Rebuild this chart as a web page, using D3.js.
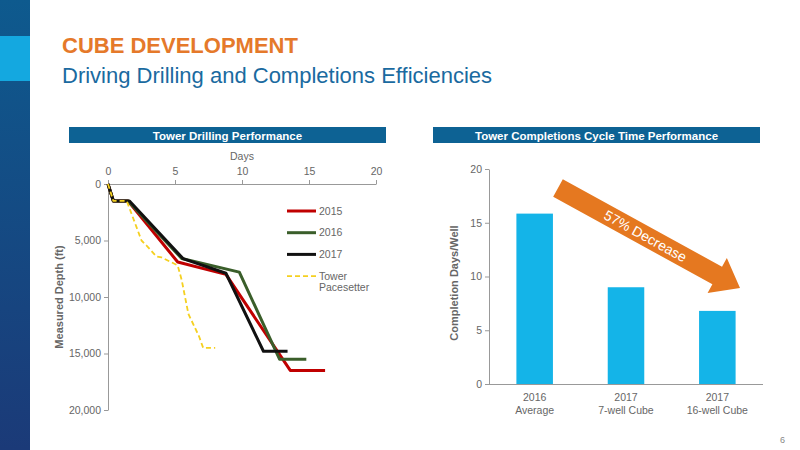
<!DOCTYPE html>
<html><head><meta charset="utf-8">
<script src="https://cdn.jsdelivr.net/npm/d3@7"></script>
<style>body{margin:0;background:#fff}svg{font-family:"Liberation Sans",Arial,sans-serif}</style>
</head><body><svg id="c" width="800" height="450"></svg>
<script>
const s2015=[[0,0],[0.4,1500],[1.5,1500],[5.2,6900],[8.8,8000],[13.6,16500],[16.2,16500]];
const s2016=[[0,0],[0.4,1500],[1.5,1500],[5.5,6600],[9.8,7800],[12.8,15500],[14.8,15500]];
const s2017=[[0,0],[0.4,1500],[1.6,1500],[5.6,6600],[8.8,7900],[11.6,14800],[13.4,14800]];
const pace=[[0,0],[0.4,1500],[1.4,1500],[2.5,5000],[3.0,5600],[3.6,6400],[4.0,6500],[5.2,7200],[5.5,8500],[6.0,11500],[6.8,13500],[7.1,14500],[8.0,14500]];
const seriesNames=["2015","2016","2017","Tower\nPacesetter"];
const barCats=[["2016","Average"],["2017","7-well Cube"],["2017","16-well Cube"]];
const barVals=[15.85,9.0,6.8];
const svg=d3.select("#c");
const g=svg.append("defs").append("linearGradient").attr("id","lg").attr("x1",0).attr("y1",0).attr("x2",0).attr("y2",1);
g.append("stop").attr("offset",0).attr("stop-color","#0e5a8e");g.append("stop").attr("offset",1).attr("stop-color","#1b3a78");
svg.append("rect").attr("x",0).attr("y",0).attr("width",30).attr("height",450).attr("fill","url(#lg)");
svg.append("rect").attr("x",0).attr("y",36).attr("width",30).attr("height",45).attr("fill","#14a8e0");
svg.append("text").attr("x",62).attr("y",53).attr("fill","#e5792a").attr("font-size",22).attr("font-weight","bold").text("CUBE DEVELOPMENT");
svg.append("text").attr("x",62).attr("y",83).attr("fill","#1a6aa0").attr("font-size",22).text("Driving Drilling and Completions Efficiencies");
svg.append("text").attr("x",785).attr("y",443).attr("fill","#888").attr("font-size",9).attr("text-anchor","end").text("6");
function banner(x,w,t){svg.append("rect").attr("x",x).attr("y",127).attr("width",w).attr("height",16).attr("fill","#0d6294");
svg.append("text").attr("x",x+w/2).attr("y",139.5).attr("text-anchor","middle").attr("fill","#fff").attr("font-size",11.5).attr("font-weight","bold").text(t);}
banner(69,317,"Tower Drilling Performance");banner(433,327,"Tower Completions Cycle Time Performance");
const x=d3.scaleLinear().domain([0,20]).range([108,376]);
const y=d3.scaleLinear().domain([0,20000]).range([184,410]);
const ax=svg.append("g").attr("transform","translate(0,184)").call(d3.axisTop(x).ticks(4).tickSize(4).tickSizeOuter(0));
const ay=svg.append("g").attr("transform","translate(108,0)").call(d3.axisLeft(y).tickValues([0,5000,10000,15000,20000]).tickSize(4).tickSizeOuter(0).tickFormat(d3.format(",")));
[ax,ay].forEach(a=>{a.selectAll("path,line").attr("stroke","#999");a.selectAll("text").attr("fill","#666").attr("font-size",10.5);});
ax.selectAll("text").attr("dy","-0.2em");
svg.append("text").attr("x",242).attr("y",160).attr("text-anchor","middle").attr("fill","#666").attr("font-size",10.5).text("Days");
svg.append("text").attr("transform","translate(63,297) rotate(-90)").attr("text-anchor","middle").attr("fill","#666").attr("font-size",11).attr("font-weight","bold").text("Measured Depth (ft)");
const line=d3.line().x(d=>x(d[0])).y(d=>y(d[1]));
const styles=[{c:"#c00000",w:3},{c:"#3a5e2a",w:3},{c:"#111",w:3},{c:"#f5d020",w:1.8,d:"5,3"}];
[s2015,s2016,s2017,pace].forEach((s,i)=>{const st=styles[i];
svg.append("path").datum(s).attr("d",line).attr("fill","none").attr("stroke",st.c).attr("stroke-width",st.w).attr("stroke-dasharray",st.d||null).attr("stroke-linejoin","round");
const ly=211+i*21.7;
svg.append("line").attr("x1",287).attr("x2",316).attr("y1",ly).attr("y2",ly).attr("stroke",st.c).attr("stroke-width",st.w).attr("stroke-dasharray",st.d||null);
const lines=seriesNames[i].split("\n");
lines.forEach((t,j)=>svg.append("text").attr("x",319).attr("y",ly+3.5+j*11).attr("fill","#666").attr("font-size",10.5).text(t));});
const bx=d3.scaleBand().domain(d3.range(3)).range([489,763]).paddingInner(0.6).paddingOuter(0.3);
const by=d3.scaleLinear().domain([0,20]).range([384,169]);
const bay=svg.append("g").attr("transform","translate(489,0)").call(d3.axisLeft(by).ticks(4).tickSize(4).tickSizeOuter(0));
bay.selectAll("path,line").attr("stroke","#999");bay.selectAll("text").attr("fill","#666").attr("font-size",10.5);
svg.selectAll(".bar").data(barVals).enter().append("rect").attr("x",(d,i)=>bx(i)).attr("width",bx.bandwidth()).attr("y",d=>by(d)).attr("height",d=>by(0)-by(d)).attr("fill","#14b4e8");
svg.append("line").attr("x1",489).attr("x2",763).attr("y1",384.5).attr("y2",384.5).attr("stroke","#999");
barCats.forEach((c,i)=>c.forEach((t,j)=>svg.append("text").attr("x",bx(i)+bx.bandwidth()/2).attr("y",401+j*13).attr("text-anchor","middle").attr("fill","#666").attr("font-size",10.5).text(t)));
svg.append("text").attr("transform","translate(458,283) rotate(-90)").attr("text-anchor","middle").attr("fill","#666").attr("font-size",11).attr("font-weight","bold").text("Completion Days/Well");
const x0=558,y0=188,x1=740,y1=288,ang=Math.atan2(y1-y0,x1-x0)*180/Math.PI,len=Math.hypot(x1-x0,y1-y0);
const ag=svg.append("g").attr("transform",`translate(${x0},${y0}) rotate(${ang})`);
ag.append("path").attr("d",`M0,-10 L${len-26},-10 L${len-26},-20 L${len},0 L${len-26},20 L${len-26},10 L0,10 Z`).attr("fill","#e57820");
ag.append("text").attr("x",len/2-4).attr("y",5).attr("text-anchor","middle").attr("fill","#fff").attr("font-size",14).text("57% Decrease");
</script></body></html>
